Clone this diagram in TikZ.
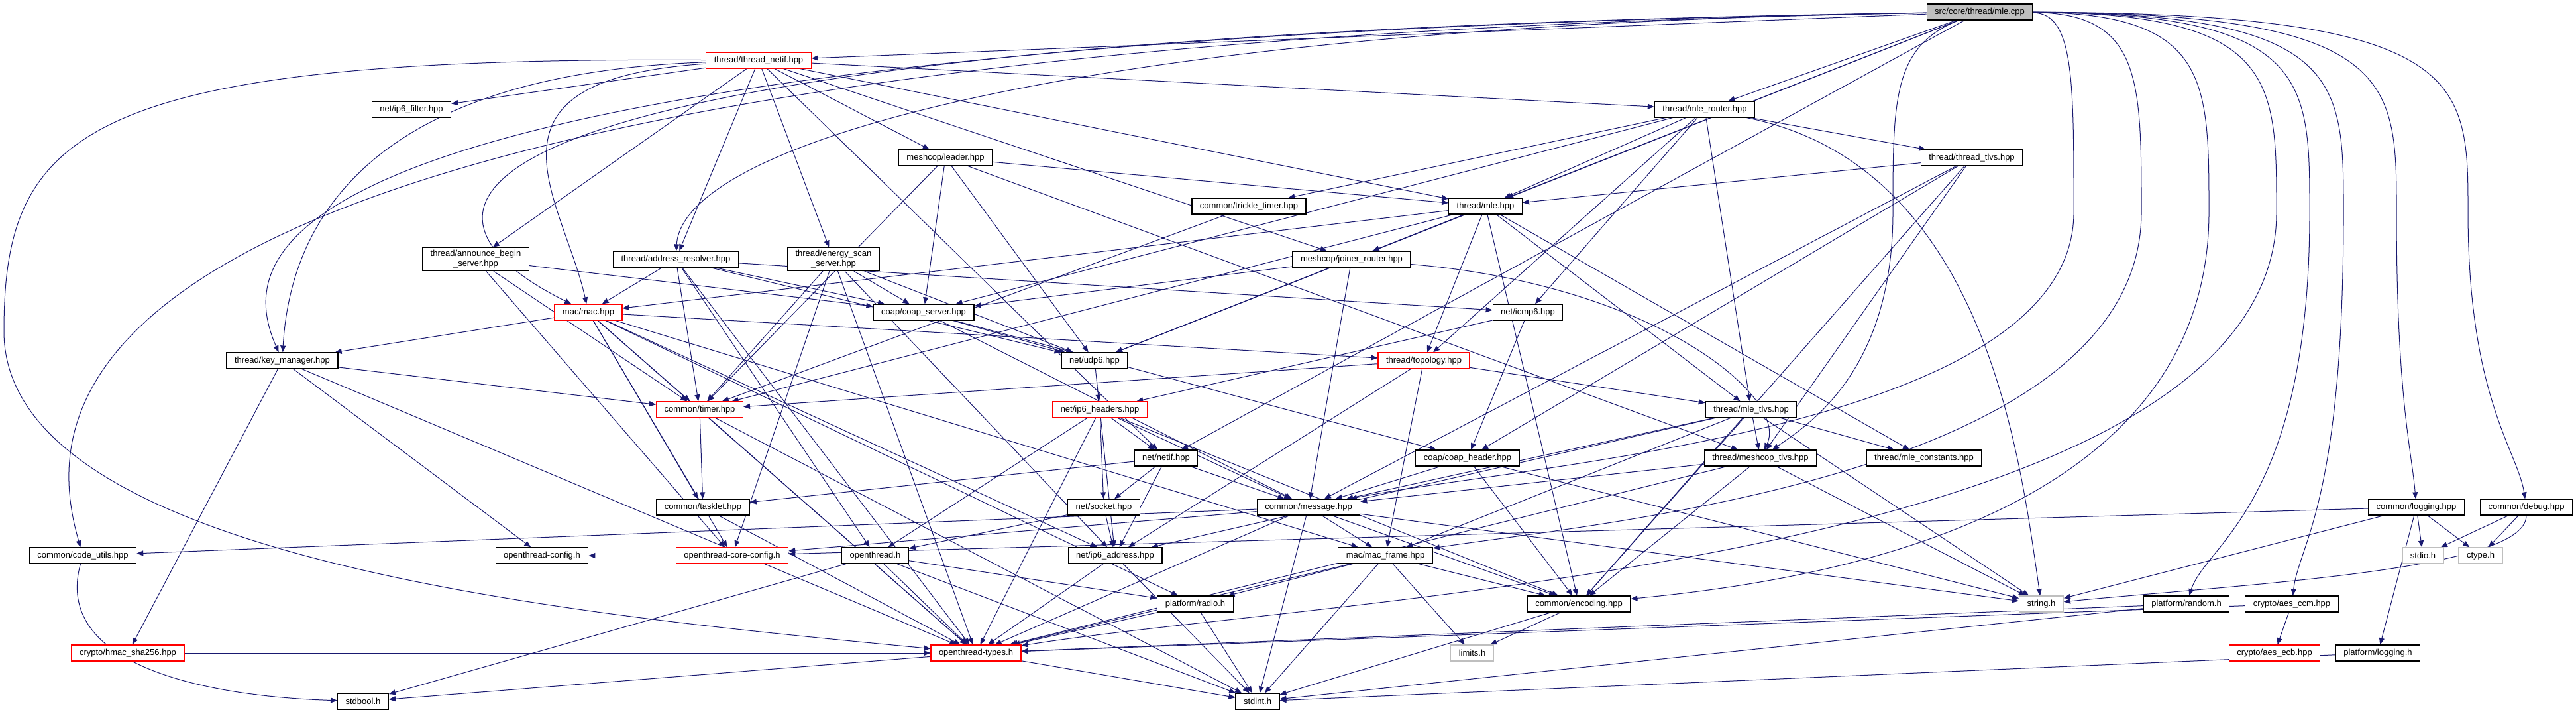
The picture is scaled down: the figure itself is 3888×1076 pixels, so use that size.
\documentclass[tikz,border=0pt]{standalone}
\usepackage{fontspec}
\setmainfont{Liberation Sans}
\usepackage{tikz}
\usetikzlibrary{arrows.meta,backgrounds}

\definecolor{edgeblue}{HTML}{191970}
\definecolor{rootgray}{HTML}{BFBFBF}

\begin{document}
\begin{tikzpicture}[x=1pt, y=-1pt,
  file/.style={draw, rectangle, line width=1.2pt, fill=white, inner xsep=12pt, inner ysep=4pt, minimum height=24pt, align=center, font=\fontsize{13}{15}\selectfont},
  trunc/.style={file, draw=red},
  sysfile/.style={file, draw=rootgray},
  rootfile/.style={file, fill=rootgray},
  inc/.style={-{Triangle[length=10pt, width=8pt]}, line width=1pt, edgeblue}
]
\useasboundingbox (0,0) rectangle (3888,1076);

% Nodes (upper ranks)
\node[rootfile] (cpp) at (2988,18) {src/core/thread/mle.cpp};
\node[trunc] (tnetif) at (1145,91) {thread/thread\_netif.hpp};
\node[file] (filt) at (621,165) {net/ip6\_filter.hpp};
\node[file] (router) at (2573,165) {thread/mle\_router.hpp};
\node[file] (leader) at (1427,238) {meshcop/leader.hpp};
\node[file] (ttlvs) at (2976,238) {thread/thread\_tlvs.hpp};
\node[file] (trickle) at (1885,311) {common/trickle\_timer.hpp};
\node[file] (mle) at (2242,311) {thread/mle.hpp};
\node[file] (abs) at (718,391) {thread/announce\_begin\\\_server.hpp};
\node[file] (addr) at (1020,391) {thread/address\_resolver.hpp};
\node[file] (escan) at (1258,391) {thread/energy\_scan\\\_server.hpp};
\node[file] (jrouter) at (2040,391) {meshcop/joiner\_router.hpp};

% Nodes (middle ranks)
\node[trunc] (mac) at (888,471) {mac/mac.hpp};
\node[file] (coapsrv) at (1394,471) {coap/coap\_server.hpp};
\node[file] (icmp) at (2306,471) {net/icmp6.hpp};
\node[file] (keymgr) at (426,544) {thread/key\_manager.hpp};
\node[file] (udp) at (1652,544) {net/udp6.hpp};
\node[trunc] (topo) at (2149,544) {thread/topology.hpp};
\node[trunc] (timer) at (1056,618) {common/timer.hpp};
\node[trunc] (iphdr) at (1660,618) {net/ip6\_headers.hpp};
\node[file] (mtlvs) at (2643,618) {thread/mle\_tlvs.hpp};
\node[file] (netif) at (1760,691) {net/netif.hpp};
\node[file] (coaphdr) at (2215,691) {coap/coap\_header.hpp};
\node[file] (mctlvs) at (2657,691) {thread/meshcop\_tlvs.hpp};
\node[file] (mconst) at (2904,691) {thread/mle\_constants.hpp};
\node[file] (tasklet) at (1061,765) {common/tasklet.hpp};
\node[file] (socket) at (1666,765) {net/socket.hpp};
\node[file] (msg) at (1975,765) {common/message.hpp};
\node[file] (logging) at (3647,765) {common/logging.hpp};
\node[file] (debug) at (3813,765) {common/debug.hpp};

% Nodes (lower ranks)
\node[file] (codeutils) at (125,838) {common/code\_utils.hpp};
\node[file] (otcfg) at (818,838) {openthread-config.h};
\node[trunc] (corecfg) at (1105,838) {openthread-core-config.h};
\node[file] (ot) at (1321,838) {openthread.h};
\node[file] (ipaddr) at (1683,838) {net/ip6\_address.hpp};
\node[file] (macframe) at (2091,838) {mac/mac\_frame.hpp};
\node[sysfile] (stdio) at (3657,838) {stdio.h};
\node[sysfile] (ctype) at (3744,838) {ctype.h};
\node[file] (radio) at (1804,911) {platform/radio.h};
\node[file] (enc) at (2383,911) {common/encoding.hpp};
\node[sysfile] (string) at (3081,911) {string.h};
\node[file] (random) at (3300,911) {platform/random.h};
\node[file] (aesccm) at (3459,911) {crypto/aes\_ccm.hpp};
\node[trunc] (hmac) at (193,985) {crypto/hmac\_sha256.hpp};
\node[trunc] (types) at (1473,985) {openthread-types.h};
\node[sysfile] (limits) at (2222,985) {limits.h};
\node[trunc] (aesecb) at (3433,985) {crypto/aes\_ecb.hpp};
\node[file] (plog) at (3589,985) {platform/logging.h};
\node[file] (stdbool) at (548,1058) {stdbool.h};
\node[file] (stdint) at (1898,1058) {stdint.h};

\begin{pgfonlayer}{background}
\fill[white] (0,0) rectangle (3888,1076);

% mle.cpp
\draw[inc] (cpp) -- (tnetif);
\draw[inc] (cpp) -- (router);
\draw[inc] (cpp) -- (mle);
\draw[inc] (cpp) -- (udp);
\draw[inc] (cpp) -- (netif);
\draw[inc] (cpp) .. controls (1600,40) and (1030,220) .. (addr);
\draw[inc] (cpp) .. controls (500,55) and (600,330) .. (mac);
\draw[inc] (cpp) .. controls (355,60) and (355,380) .. (keymgr);
\draw[inc] (cpp) .. controls (57,70) and (57,600) .. (codeutils);
\draw[inc] (cpp) .. controls (2857,70) and (2857,150) .. (2857,320) .. controls (2857,560) and (2730,640) .. (mctlvs);
\draw[inc] (cpp) .. controls (3130,20) and (3130,120) .. (3130,320) .. controls (3130,650) and (2300,700) .. (msg);
\draw[inc] (cpp) .. controls (3232,20) and (3232,120) .. (3232,320) .. controls (3232,720) and (2400,790) .. (macframe);
\draw[inc] (cpp) .. controls (3334,20) and (3334,120) .. (3334,320) .. controls (3334,800) and (2700,880) .. (enc);
\draw[inc] (cpp) .. controls (3436,20) and (3436,120) .. (3436,320) .. controls (3436,850) and (2000,900) .. (types);
\draw[inc] (cpp) .. controls (3486,20) and (3486,120) .. (3486,320) .. controls (3486,760) and (3330,820) .. (random);
\draw[inc] (cpp) .. controls (3537,20) and (3537,120) .. (3537,320) .. controls (3537,760) and (3470,820) .. (aesccm);
\draw[inc] (cpp) .. controls (3617,20) and (3617,120) .. (3617,320) .. controls (3617,600) and (3640,680) .. (logging);
\draw[inc] (cpp) .. controls (3725,20) and (3725,120) .. (3725,320) .. controls (3725,600) and (3800,680) .. (debug);

% thread_netif
\draw[inc] (tnetif) -- (filt);
\draw[inc] (tnetif) -- (router);
\draw[inc] (tnetif) -- (leader);
\draw[inc] (tnetif) -- (mle);
\draw[inc] (tnetif) -- (abs);
\draw[inc] (tnetif) -- (addr);
\draw[inc] (tnetif) -- (escan);
\draw[inc] (tnetif) -- (jrouter);
\draw[inc] (tnetif) -- (netif);
\draw[inc] (tnetif) .. controls (700,120) and (850,300) .. (mac);
\draw[inc] (tnetif) .. controls (600,110) and (440,300) .. (keymgr);
\draw[inc] (tnetif) .. controls (120,85) and (6,200) .. (6,500) .. controls (6,850) and (900,930) .. (types);

% mle_router, leader, thread_tlvs
\draw[inc] (router) -- (ttlvs);
\draw[inc] (router) -- (trickle);
\draw[inc] (router) -- (mle);
\draw[inc] (router) -- (coapsrv);
\draw[inc] (router) -- (icmp);
\draw[inc] (router) -- (topo);
\draw[inc] (router) -- (mtlvs);
\draw[inc] (router) .. controls (3000,250) and (3050,700) .. (string);
\draw[inc] (leader) -- (mle);
\draw[inc] (leader) -- (coapsrv);
\draw[inc] (leader) -- (udp);
\draw[inc] (leader) -- (timer);
\draw[inc] (leader) -- (mctlvs);
\draw[inc] (ttlvs) -- (mle);
\draw[inc] (ttlvs) -- (coaphdr);
\draw[inc] (ttlvs) -- (mctlvs);
\draw[inc] (ttlvs) -- (msg);
\draw[inc] (ttlvs) -- (enc);
\draw[inc] (trickle) -- (timer);

% mle.hpp
\draw[inc] (mle) -- (mac);
\draw[inc] (mle) -- (timer);
\draw[inc] (mle) -- (jrouter);
\draw[inc] (mle) -- (topo);
\draw[inc] (mle) -- (mtlvs);
\draw[inc] (mle) -- (mconst);
\draw[inc] (mle) -- (enc);
\draw[inc] (mle) -- (udp);

% servers and resolver
\draw[inc] (abs) -- (coapsrv);
\draw[inc] (abs) -- (timer);
\draw[inc] (abs) -- (corecfg);
\draw[inc] (addr) -- (mac);
\draw[inc] (addr) -- (timer);
\draw[inc] (addr) -- (udp);
\draw[inc] (addr) -- (coapsrv);
\draw[inc] (addr) -- (icmp);
\draw[inc] (addr) -- (ot);
\draw[inc] (addr) -- (types);
\draw[inc] (escan) -- (timer);
\draw[inc] (escan) -- (coapsrv);
\draw[inc] (escan) -- (udp);
\draw[inc] (escan) -- (corecfg);
\draw[inc] (escan) -- (types);
\draw[inc] (escan) -- (ipaddr);
\draw[inc] (jrouter) -- (coapsrv);
\draw[inc] (jrouter) -- (udp);
\draw[inc] (jrouter) -- (msg);
\draw[inc] (jrouter) .. controls (2500,430) and (2700,600) .. (mctlvs);

% mac, coap, icmp6, key_manager
\draw[inc] (mac) -- (keymgr);
\draw[inc] (mac) -- (topo);
\draw[inc] (mac) -- (timer);
\draw[inc] (mac) -- (tasklet);
\draw[inc] (mac) -- (macframe);
\draw[inc] (mac) -- (corecfg);
\draw[inc] (mac) -- (ipaddr);
\draw[inc] (mac) -- (radio);
\draw[inc] (mac) -- (types);
\draw[inc] (coapsrv) -- (udp);
\draw[inc] (coapsrv) -- (coaphdr);
\draw[inc] (coapsrv) -- (msg);
\draw[inc] (icmp) -- (iphdr);
\draw[inc] (icmp) -- (coaphdr);
\draw[inc] (keymgr) -- (timer);
\draw[inc] (keymgr) -- (hmac);
\draw[inc] (keymgr) -- (types);
\draw[inc] (keymgr) -- (otcfg);

% net and thread helpers
\draw[inc] (udp) -- (iphdr);
\draw[inc] (topo) -- (timer);
\draw[inc] (topo) -- (mtlvs);
\draw[inc] (topo) -- (macframe);
\draw[inc] (topo) -- (ipaddr);
\draw[inc] (timer) -- (tasklet);
\draw[inc] (timer) -- (types);
\draw[inc] (timer) -- (stdint);
\draw[inc] (iphdr) -- (netif);
\draw[inc] (iphdr) -- (socket);
\draw[inc] (iphdr) -- (ipaddr);
\draw[inc] (iphdr) -- (msg);
\draw[inc] (iphdr) -- (types);
\draw[inc] (iphdr) -- (ot);
\draw[inc] (iphdr) -- (enc);
\draw[inc] (mtlvs) -- (mctlvs);
\draw[inc] (mtlvs) -- (mconst);
\draw[inc] (mtlvs) -- (msg);
\draw[inc] (mtlvs) -- (enc);
\draw[inc] (mtlvs) -- (string);
\draw[inc] (mtlvs) -- (ipaddr);
\draw[inc] (mtlvs) -- (macframe);
\draw[inc] (netif) -- (tasklet);
\draw[inc] (netif) -- (socket);
\draw[inc] (netif) -- (msg);
\draw[inc] (netif) -- (ipaddr);
\draw[inc] (coaphdr) -- (msg);
\draw[inc] (coaphdr) -- (enc);
\draw[inc] (coaphdr) -- (string);
\draw[inc] (mctlvs) -- (msg);
\draw[inc] (mctlvs) -- (enc);
\draw[inc] (mctlvs) -- (types);
\draw[inc] (mctlvs) -- (string);

% common and platform headers
\draw[inc] (tasklet) -- (types);
\draw[inc] (socket) -- (ipaddr);
\draw[inc] (socket) -- (ot);
\draw[inc] (msg) -- (codeutils);
\draw[inc] (msg) -- (corecfg);
\draw[inc] (msg) -- (macframe);
\draw[inc] (msg) -- (enc);
\draw[inc] (msg) -- (string);
\draw[inc] (msg) -- (stdint);
\draw[inc] (msg) -- (types);
\draw[inc] (corecfg) -- (otcfg);
\draw[inc] (ot) -- (stdbool);
\draw[inc] (ot) -- (types);
\draw[inc] (ot) -- (stdint);
\draw[inc] (ot) -- (radio);
\draw[inc] (ipaddr) -- (types);
\draw[inc] (ipaddr) -- (stdint);
\draw[inc] (macframe) -- (radio);
\draw[inc] (macframe) -- (types);
\draw[inc] (macframe) -- (stdint);
\draw[inc] (macframe) -- (limits);
\draw[inc] (macframe) -- (enc);
\draw[inc] (radio) -- (types);
\draw[inc] (radio) -- (stdint);
\draw[inc] (enc) -- (limits);
\draw[inc] (enc) -- (stdint);
\draw[inc] (types) -- (stdint);
\draw[inc] (types) -- (stdbool);
\draw[inc] (codeutils) .. controls (80,1000) and (300,1050) .. (stdbool);
\draw[inc] (hmac) -- (types);
\draw[inc] (random) -- (types);
\draw[inc] (random) -- (stdint);
\draw[inc] (aesccm) -- (aesecb);
\draw[inc] (aesccm) -- (types);
\draw[inc] (logging) -- (stdio);
\draw[inc] (logging) -- (ctype);
\draw[inc] (logging) -- (string);
\draw[inc] (logging) -- (plog);
\draw[inc] (logging) -- (corecfg);
\draw[inc] (debug) -- (stdio);
\draw[inc] (debug) -- (ctype);
\draw[inc] (debug) .. controls (3813,860) and (3400,880) .. (string);
\draw[inc] (plog) -- (stdint);
\end{pgfonlayer}

\end{tikzpicture}
\end{document}
